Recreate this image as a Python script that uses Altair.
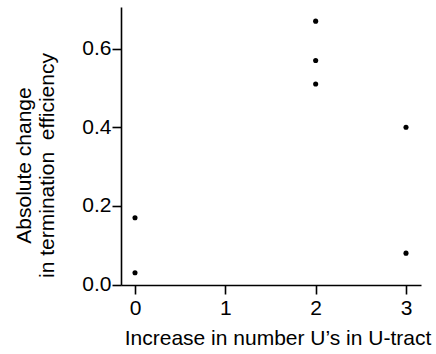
import altair as alt
import pandas as pd

# Data
u_increase = [0, 0, 2, 2, 2, 3, 3]
abs_change = [0.17, 0.03, 0.67, 0.57, 0.51, 0.40, 0.08]

x_ticks = [0, 1, 2, 3]
y_ticks = [0.0, 0.2, 0.4, 0.6]

df = pd.DataFrame({"u": u_increase, "chg": abs_change})

FONT = "Liberation Sans"

chart = alt.Chart(df).mark_circle(size=26, color="black", opacity=1).encode(
    x=alt.X(
        "u:Q",
        scale=alt.Scale(domain=[-0.155, 3.166], nice=False, zero=False),
        axis=alt.Axis(
            values=x_ticks,
            format="d",
            title="Increase in number U’s in U-tract",
            titleX=156.5,
            titleY=59,
            titleAlign="center",
            titleBaseline="alphabetic",
            labelPadding=3,
        ),
    ),
    y=alt.Y(
        "chg:Q",
        scale=alt.Scale(domain=[-0.001, 0.706], nice=False, zero=False),
        axis=alt.Axis(
            values=y_ticks,
            format=".1f",
            title=["Absolute change", "in termination\u00a0 efficiency"],
            titleAngle=270,
            titleAlign="center",
            titleBaseline="alphabetic",
            titleX=-90.5,
            titleY=158,
            titleLineHeight=22.5,
            labelPadding=1,
        ),
    ),
).properties(
    width=300,
    height=278,
    autosize=alt.AutoSizeParams(type="none"),
    padding={"left": 121, "top": 7, "right": 15, "bottom": 69},
    background="white",
).configure_view(
    stroke=None
).configure_axis(
    grid=False,
    domainColor="black",
    domainWidth=1.6,
    tickColor="black",
    tickWidth=1.6,
    tickSize=9,
    labelColor="black",
    labelFont=FONT,
    labelFontSize=21,
    titleColor="black",
    titleFont=FONT,
    titleFontSize=21,
    titleFontWeight="normal",
)

chart.save("out.html", embed_options={"renderer": "svg", "actions": False})
